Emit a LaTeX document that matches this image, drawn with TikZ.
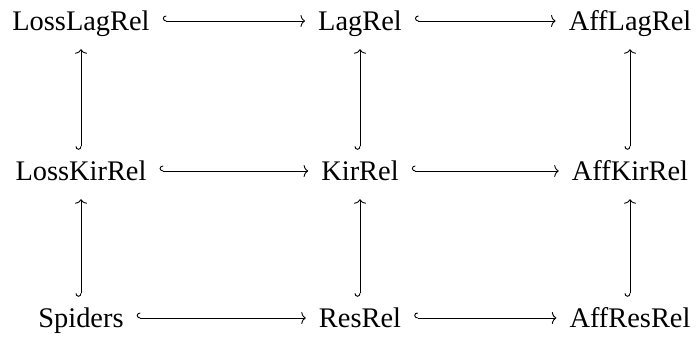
\documentclass[tikz,border=0pt]{standalone}
\usepackage{fontspec}
\setmainfont{Liberation Serif}
\usetikzlibrary{arrows.meta}
\begin{document}
\begin{tikzpicture}[x=1bp,y=-1bp,
  obj/.style={inner sep=0pt, anchor=base, font=\fontsize{28.5}{34}\selectfont, text height=20bp, text depth=2bp},
  incl/.style={line width=0.9bp, {Hooks[right,length=3.5bp,width=11bp]}-{To[length=4.5bp,width=12bp]}},
  hinc/.style={incl, shorten <=13bp, shorten >=13bp},
  vinc/.style={incl, shorten <=10bp, shorten >=17bp}]
\useasboundingbox (0,0) rectangle (696,337);
\node[obj] (LL) at (81,30) {LossLagRel};
\node[obj] (L) at (360,30) {LagRel};
\node[obj] (AL) at (630,30) {AffLagRel};
\node[obj] (LK) at (81,180) {LossKirRel};
\node[obj] (K) at (360,180) {KirRel};
\node[obj] (AK) at (630,180) {AffKirRel};
\node[obj] (S) at (81,327) {Spiders};
\node[obj] (R) at (360,327) {ResRel};
\node[obj] (AR) at (630,327) {AffResRel};
\draw[hinc] (LL) -- (L);
\draw[hinc] (L) -- (AL);
\draw[hinc] (LK) -- (K);
\draw[hinc] (K) -- (AK);
\draw[hinc] (S) -- (R);
\draw[hinc] (R) -- (AR);
\draw[vinc] (LK) -- (LL);
\draw[vinc] (K) -- (L);
\draw[vinc] (AK) -- (AL);
\draw[vinc] (S) -- (LK);
\draw[vinc] (R) -- (K);
\draw[vinc] (AR) -- (AK);
\end{tikzpicture}
\end{document}
